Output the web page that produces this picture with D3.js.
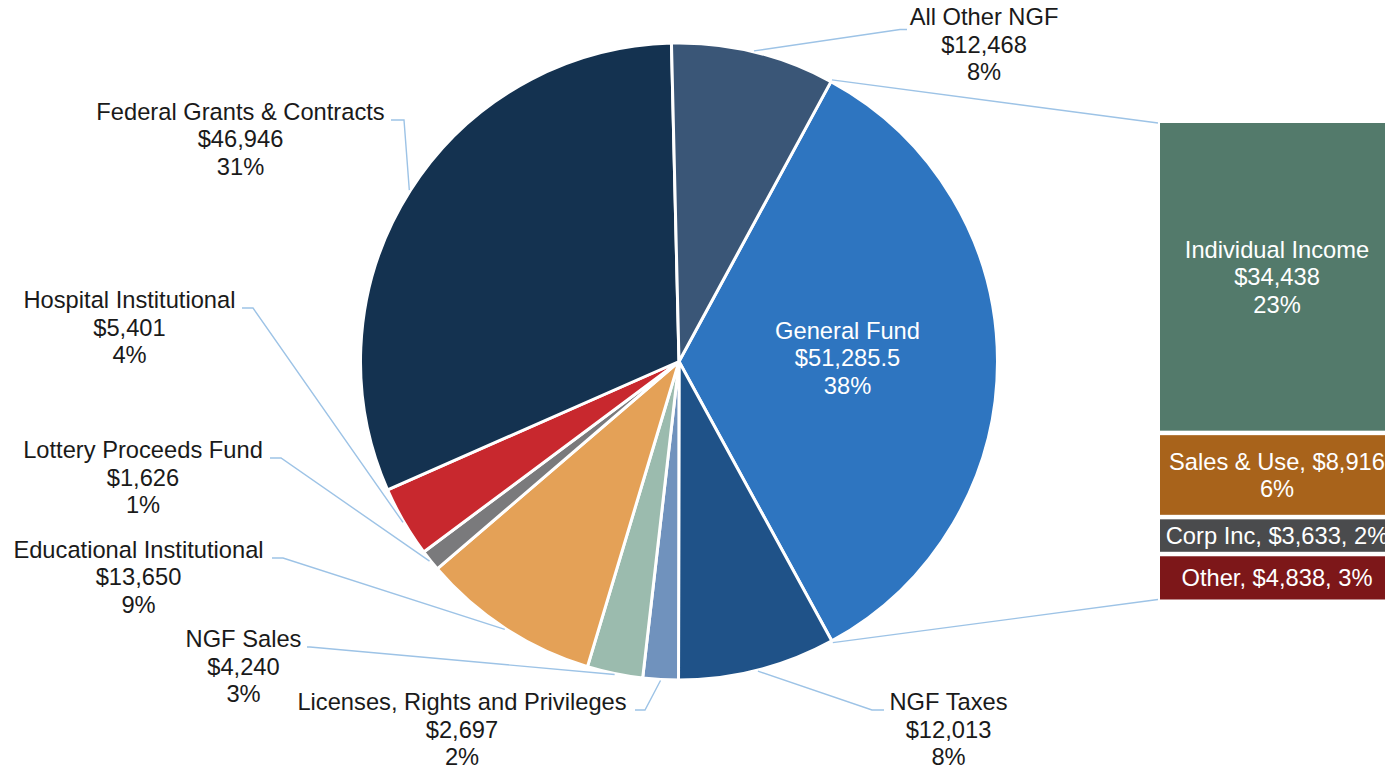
<!DOCTYPE html>
<html>
<head>
<meta charset="utf-8">
<script src="https://cdn.jsdelivr.net/npm/d3@7"></script>
<style>
    body { margin: 0; background: #fff; }
    svg { display: block; font-family: "Liberation Sans", Arial, sans-serif; }
</style>
</head>
<body>
<div id="chart"></div>
<script>

// pie slices, clockwise starting with General Fund
const pieNames = ["General Fund", "NGF Taxes", "Licenses, Rights and Privileges", "NGF Sales",
    "Educational Institutional", "Lottery Proceeds Fund", "Hospital Institutional",
    "Federal Grants & Contracts", "All Other NGF"];
const pieValues = [51285.5, 12013, 2697, 4240, 13650, 1626, 5401, 46946, 12468];
const piePercents = [38, 8, 2, 3, 9, 1, 4, 31, 8];

// bar of pie (breakdown of General Fund)
const barNames = ["Individual Income", "Sales & Use", "Corp Inc", "Other"];
const barValues = [34438, 8916, 3633, 4838];
const barPercents = [23, 6, 2, 3];

const pieColors = ["#2e75c0", "#1f5288", "#7092bd", "#9bbbae", "#e4a157", "#7a7a7c", "#c8282e", "#143250", "#3a5677"];
const barColors = ["#537a6b", "#a8631b", "#4a4b4d", "#7d1719"];

const width = 1385, height = 768;
const cx = 679, cy = 361.5, radius = 318.5;
const fontSize = 23.7, lineGap = 27.5;
const leaderColor = "#9dc3e6";

// label anchor (text centre x, first baseline y) and leader line elbow / end
const labelLayout = [
    {x: 847.5, y: 338.5, inside: true},
    {x: 948.5, y: 710, elbow: [872, 710], end: [884, 710]},
    {x: 462, y: 710, elbow: [645, 710], end: [635, 710]},
    {x: 243.5, y: 647, elbow: [310, 647], end: [307, 647]},
    {x: 138.5, y: 557.5, elbow: [283, 558], end: [272, 558]},
    {x: 143, y: 458, elbow: [281, 458], end: [270, 458]},
    {x: 129.5, y: 308, elbow: [253, 308], end: [242, 308]},
    {x: 240.5, y: 119.5, elbow: [404, 120], end: [391, 120]},
    {x: 984, y: 25, elbow: [900, 29.5], end: [907, 29.5]}
];

const fmt = d3.format("$,");

const svg = d3.select("#chart").append("svg")
    .attr("width", width)
    .attr("height", height);

// pie
const startDeg = 28.5;
const pie = d3.pie().sort(null)
    .startAngle(startDeg * Math.PI / 180)
    .endAngle((startDeg + 360) * Math.PI / 180);
const arcs = pie(pieValues);

const arc = d3.arc().innerRadius(0).outerRadius(radius);

const g = svg.append("g").attr("transform", `translate(${cx},${cy})`);

g.selectAll("path.slice")
    .data(arcs)
    .join("path")
    .attr("class", "slice")
    .attr("d", arc)
    .attr("fill", (d, i) => pieColors[i])
    .attr("stroke", "#fff")
    .attr("stroke-width", 3)
    .attr("stroke-linejoin", "round");

function pointAt(angle, r) {
    return [cx + Math.sin(angle) * r, cy - Math.cos(angle) * r];
}

// leader lines
const line = d3.line();
arcs.forEach((d, i) => {
    const lay = labelLayout[i];
    if (lay.inside) return;
    const mid = (d.startAngle + d.endAngle) / 2;
    const p0 = pointAt(mid, radius + 1);
    svg.append("path")
        .attr("d", line([p0, lay.elbow, lay.end]))
        .attr("fill", "none")
        .attr("stroke", leaderColor)
        .attr("stroke-width", 1.4);
});

// labels
arcs.forEach((d, i) => {
    const lay = labelLayout[i];
    const t = svg.append("text")
        .attr("text-anchor", "middle")
        .attr("font-size", fontSize)
        .attr("fill", lay.inside ? "#fff" : "#1a1a1a");
    [pieNames[i], fmt(pieValues[i]), piePercents[i] + "%"].forEach((s, k) => {
        t.append("tspan").attr("x", lay.x).attr("y", lay.y + k * lineGap).text(s);
    });
});

// bar of pie
const barX = 1160, barW = 234, barTop = 123, barGap = 4.5, barBottom = 599.5;
const barTotal = d3.sum(barValues);
const y = d3.scaleLinear()
    .domain([0, barTotal])
    .range([0, barBottom - barTop - barGap * (barValues.length - 1)]);

let acc = 0;
const barData = barValues.map((v, i) => {
    const d = {i, v, y0: barTop + y(acc) + i * barGap, h: y(v)};
    acc += v;
    return d;
});

svg.selectAll("rect.bar")
    .data(barData)
    .join("rect")
    .attr("class", "bar")
    .attr("x", barX)
    .attr("y", d => d.y0)
    .attr("width", barW)
    .attr("height", d => d.h)
    .attr("fill", d => barColors[d.i]);

// connector lines from General Fund slice to bar
const gf = arcs[0];
const topPt = pointAt(gf.startAngle, radius + 2);
const botPt = pointAt(gf.endAngle, radius + 2);
svg.append("path")
    .attr("d", line([topPt, [barX - 2, barTop]]))
    .attr("stroke", leaderColor).attr("stroke-width", 1.4).attr("fill", "none");
svg.append("path")
    .attr("d", line([botPt, [barX - 2, barBottom]]))
    .attr("stroke", leaderColor).attr("stroke-width", 1.4).attr("fill", "none");

// bar labels
const barMid = barX + barW / 2;
barData.forEach(d => {
    let lines;
    if (d.i === 0) lines = [barNames[0], fmt(d.v), barPercents[0] + "%"];
    else if (d.i === 1) lines = [barNames[1] + ", " + fmt(d.v), barPercents[1] + "%"];
    else lines = [barNames[d.i] + ", " + fmt(d.v) + ", " + barPercents[d.i] + "%"];
    const blockH = (lines.length - 1) * lineGap;
    const first = d.y0 + d.h / 2 - blockH / 2 + 8.5;
    const t = svg.append("text")
        .attr("text-anchor", "middle")
        .attr("font-size", fontSize)
        .attr("fill", "#fff");
    lines.forEach((s, k) => {
        t.append("tspan").attr("x", barMid).attr("y", first + k * lineGap).text(s);
    });
});

</script>
</body>
</html>
